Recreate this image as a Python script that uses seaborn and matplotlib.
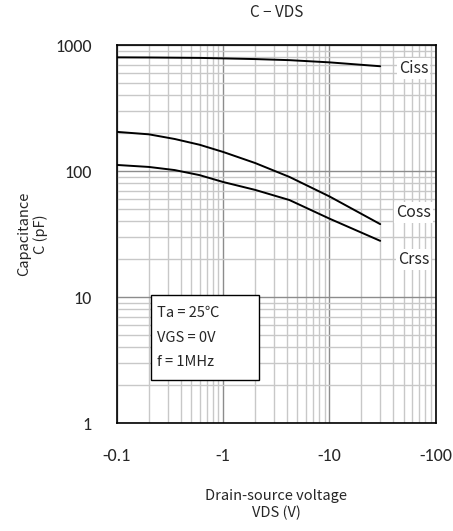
import matplotlib
matplotlib.use("Agg")
import matplotlib.pyplot as plt
from matplotlib.ticker import LogLocator, FixedLocator, FixedFormatter, NullFormatter
import seaborn as sns
import pandas as pd
import numpy as np

# drain-source voltage (V) and capacitances (pF)
vds = [-0.1, -0.2, -0.35, -0.6, -1, -2, -4.2, -10, -30]
ciss = [800, 798, 795, 792, 785, 775, 760, 730, 680]
coss = [205, 196, 180, 162, 142, 116, 90, 63, 38]
crss = [112, 108, 102, 93, 82, 71, 59, 42, 28]

x_ticks = [0.1, 1, 10, 100]
x_labels = ["-0.1", "-1", "-10", "-100"]
y_ticks = [1, 10, 100, 1000]
y_labels = ["1", "10", "100", "1000"]

sns.set_style("white")
plt.rcParams['font.family'] = ['Noto Sans CJK JP', 'DejaVu Sans']

df = pd.DataFrame({"V": np.abs(vds), "Ciss": ciss, "Coss": coss, "Crss": crss})

fig = plt.figure(figsize=(4.53, 5.31), dpi=100)
ax = fig.add_axes([0.258, 0.203, 0.704, 0.712])

for name in ["Ciss", "Coss", "Crss"]:
    sns.lineplot(data=df, x="V", y=name, ax=ax, color="black", linewidth=1.4, zorder=5)

ax.set_xscale("log")
ax.set_yscale("log")
ax.set_xlim(0.1, 100)
ax.set_ylim(1, 1000)

ax.xaxis.set_major_locator(FixedLocator(x_ticks))
ax.xaxis.set_major_formatter(FixedFormatter(x_labels))
ax.xaxis.set_minor_locator(LogLocator(base=10, subs=np.arange(2, 10)))
ax.xaxis.set_minor_formatter(NullFormatter())
ax.yaxis.set_major_locator(FixedLocator(y_ticks))
ax.yaxis.set_major_formatter(FixedFormatter(y_labels))
ax.yaxis.set_minor_locator(LogLocator(base=10, subs=np.arange(2, 10)))
ax.yaxis.set_minor_formatter(NullFormatter())

ax.grid(which="major", color="#8c8c8c", linewidth=1.0)
ax.grid(which="minor", color="#c8c8c8", linewidth=1.0)
ax.tick_params(which="both", length=0)
ax.tick_params(axis="x", pad=18, labelsize=13)
ax.tick_params(axis="y", pad=18, labelsize=13)
for lab in ax.get_xticklabels() + ax.get_yticklabels():
    lab.set_family(['Carlito', 'Liberation Sans', 'DejaVu Sans'])

for s in ax.spines.values():
    s.set_color("black")
    s.set_linewidth(1.2)

ax.set_title("C − VDS", fontsize=11, pad=20)
ax.set_xlabel("Drain-source voltage\nVDS (V)", fontsize=10.5, labelpad=18, linespacing=1.2)
ax.set_ylabel("Capacitance\nC (pF)", fontsize=10.5, labelpad=5, linespacing=1.2)

# curve labels
for name, yv in [("Ciss", 650), ("Coss", 47), ("Crss", 20)]:
    ax.text(0.93, yv, name, transform=ax.get_yaxis_transform(), fontsize=11.5,
            ha="center", va="center", zorder=6,
            bbox=dict(facecolor="white", edgecolor="none", pad=1.5))

# conditions box
ax.add_patch(plt.Rectangle((0.107, 0.114), 0.338, 0.225, transform=ax.transAxes,
                           facecolor="white", edgecolor="black", linewidth=1.0, zorder=6))
ax.text(0.125, 0.291, "Ta = 25℃", transform=ax.transAxes, fontsize=10.5, va="center", zorder=7)
ax.text(0.125, 0.225, "VGS = 0V", transform=ax.transAxes, fontsize=10.5, va="center", zorder=7)
ax.text(0.125, 0.162, "f = 1MHz", transform=ax.transAxes, fontsize=10.5, va="center", zorder=7)

fig.savefig("out.png", dpi=100)
